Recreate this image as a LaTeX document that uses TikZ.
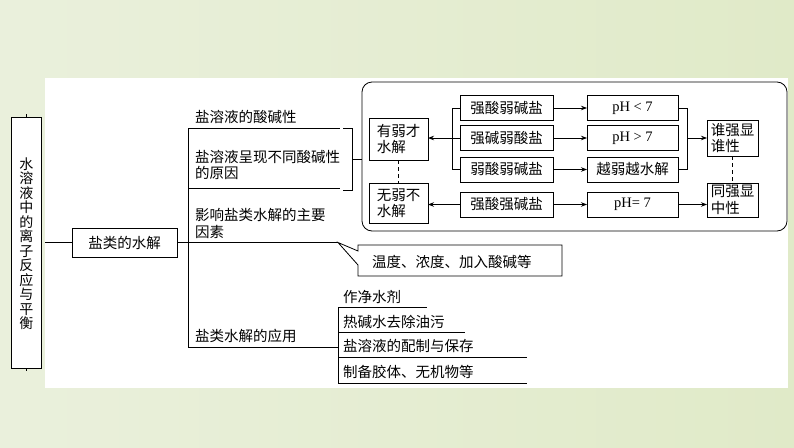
\documentclass[tikz,border=0pt]{standalone}
\usepackage{fontspec}
\setmainfont{Liberation Serif}
\newfontfamily\cjk{Noto Sans CJK SC}
\usetikzlibrary{arrows.meta,calc}
\definecolor{bgL}{RGB}{234,240,220}
\definecolor{bgR}{RGB}{224,234,200}
\begin{document}
\begin{tikzpicture}[x=1pt,y=-1pt,
  every node/.style={inner sep=0pt, outer sep=0pt, font=\cjk\fontsize{14.5}{16.5}\selectfont},
  box/.style={draw, line width=0.8pt, fill=white},
  ln/.style={line width=0.8pt},
  arr/.style={line width=0.8pt, -{Stealth[length=6pt,width=4.5pt]}},
  dsh/.style={line width=0.8pt, dash pattern=on 4pt off 3pt},
  sbox/.style={box, minimum width=93pt, minimum height=25pt},
  pbox/.style={box, minimum width=91pt, minimum height=25pt},
  lat/.style={font=\normalfont\fontsize{14.5}{16.5}\selectfont}]
% background
\shade[left color=bgL, right color=bgR] (0,0) rectangle (794,447);
\fill[white] (45,78) rectangle (788,388);
\useasboundingbox (0,0) rectangle (794,447);

% left title box
\node[box, minimum width=30pt, minimum height=251pt] (main) at (26.5,242.5) {};
\node[font=\cjk\fontsize{14}{14.5}\selectfont, align=center] (maintxt) at (26.5,243.5)
  {水\\溶\\液\\中\\的\\离\\子\\反\\应\\与\\平\\衡};
\draw[line width=0.6pt] (main.north) -- ++(0,-3);
\draw[line width=0.6pt] (main.south) -- ++(0,3);

% salt hydrolysis box
\node[box, minimum width=105pt, minimum height=29pt] (salt) at (124.5,242.5) {盐类的水解};
\draw[ln] ([xshift=3.5pt]main.east) -- (salt.west);

% trunk
\coordinate (tr1) at (188,128);
\coordinate (tr2) at (188,188);
\coordinate (tr3) at (188,242.5);
\coordinate (tr4) at (188,347);
\coordinate (e1) at (340,128);
\coordinate (e2) at (340,188);
\coordinate (tip) at (338,242.5);
\coordinate (e4) at (338,347);
\draw[ln] (salt.east) -- (tr3);
\draw[ln] (tr1) -- (tr4);
\draw[ln] (tr1) -- (e1);
\draw[ln] (tr2) -- (e2);
\draw[ln] (tr3) -- (tip);
\draw[ln] (tr4) -- (e4);

\node[anchor=west] (a1) at (195,117) {盐溶液的酸碱性};
\node[anchor=west, align=left] (a2) at (195,165) {盐溶液呈现不同酸碱性\\的原因};
\node[anchor=west, align=left] (a3) at (195,223.5) {影响盐类水解的主要\\因素};
\node[anchor=west] (a4) at (195,336) {盐类水解的应用};

% bracket
\coordinate (b1) at (343,128);
\coordinate (b2) at (352,128);
\coordinate (b3) at (352,190);
\coordinate (b4) at (343,190);
\coordinate (bm) at (352,159);
\draw[ln] (b1) -- (b2) -- (b3) -- (b4);

% big rounded box
\node[draw, line width=0.8pt, rounded corners=10pt, minimum width=425pt, minimum height=149pt] (big) at (574.5,156.5) {};
\draw[ln] (bm) -- (bm -| big.west);

% inner boxes
\node[box, minimum width=59pt, minimum height=42pt, align=left] (you) at (398.5,139) {有弱才\\水解};
\node[box, minimum width=59pt, minimum height=40pt, align=left] (wu) at (398.5,203) {无弱不\\水解};

\node[sbox] (s1) at (506.5,108) {强酸弱碱盐};
\node[sbox] (s2) at (506.5,138) {强碱弱酸盐};
\node[sbox] (s3) at (506.5,169.5) {弱酸弱碱盐};
\node[sbox] (s4) at (506.5,204.5) {强酸强碱盐};

\node[pbox, lat] (p1) at (632.5,108) {pH < 7};
\node[pbox, lat] (p2) at (632.5,138) {pH > 7};
\node[pbox] (p3) at (632.5,169.5) {越弱越水解};
\node[pbox, lat] (p4) at (632.5,204.5) {pH= 7};

\node[box, minimum width=51pt, minimum height=36pt, align=left] (tq) at (732.5,138) {谁强显\\谁性};
\node[box, minimum width=51pt, minimum height=34pt, align=left] (tz) at (732.5,200) {同强显\\中性};

\foreach \i in {1,2,3,4} { \draw[arr] (s\i.east) -- (p\i.west); }
\draw[ln] (s1.west) -- ++(-8,0) |- (s3.west);
\draw[arr] (s2.west) -- (s2.west -| you.east);
\draw[arr] (s4.west) -- (s4.west -| wu.east);
\draw[ln] (p1.east) -- ++(9,0) |- (p3.east);
\coordinate (rb) at (687,138);
\draw[arr] (rb) -- (rb -| tq.west);
\draw[arr] (p4.east) -- (p4.east -| tz.west);
\draw[dsh] (you.south) -- (wu.north);
\draw[dsh] (tq.south) -- (tz.north);

% callout
\draw[ln, fill=white] (358,245) -- (562,245) -- (562,276) -- (358,276) -- (358,265) -- (tip) -- (358,251) -- cycle;
\node[anchor=west] (cal) at (372,262) {温度、浓度、加入酸碱等};

% applications
\coordinate (v1) at (338,307);
\coordinate (v2) at (338,332);
\coordinate (v3) at (338,357);
\coordinate (v4) at (338,383);
\draw[ln] (v1) -- (v4);
\draw[ln] (v1) -- ++(89,0);
\draw[ln] (v2) -- ++(127,0);
\draw[ln] (v3) -- ++(189,0);
\draw[ln] (v4) -- ++(189,0);
\node[anchor=west] (u1) at (343,297) {作净水剂};
\node[anchor=west] (u2) at (343,322) {热碱水去除油污};
\node[anchor=west] (u3) at (343,346) {盐溶液的配制与保存};
\node[anchor=west] (u4) at (343,372) {制备胶体、无机物等};
\end{tikzpicture}
\end{document}
